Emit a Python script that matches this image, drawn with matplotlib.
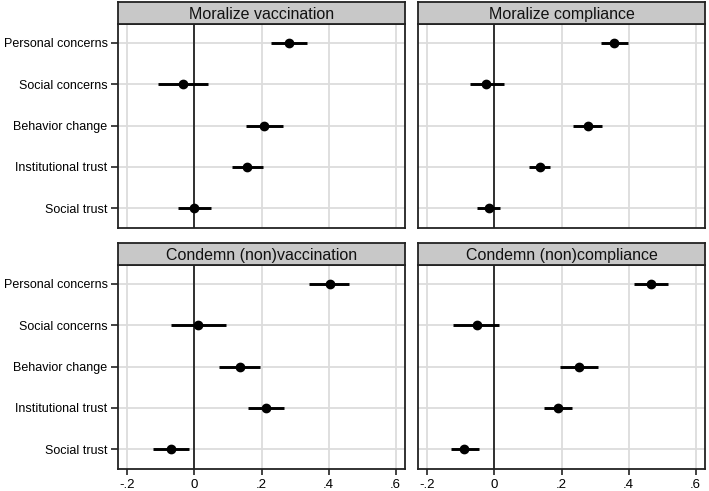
import matplotlib
matplotlib.use('Agg')
import matplotlib.pyplot as plt
import numpy as np

plt.rcParams['font.family'] = ['Liberation Sans', 'DejaVu Sans']

## categories and panels
categories = ['Personal concerns', 'Social concerns', 'Behavior change',
              'Institutional trust', 'Social trust']
panel_titles = ['Moralize vaccination', 'Moralize compliance',
                'Condemn (non)vaccination', 'Condemn (non)compliance']

## estimates and confidence intervals, one list per panel
est_mor_vacc = [0.282, -0.035, 0.208, 0.156, 0.000]
lo_mor_vacc = [0.227, -0.108, 0.154, 0.111, -0.048]
hi_mor_vacc = [0.337, 0.041, 0.263, 0.204, 0.048]

est_mor_comp = [0.357, -0.024, 0.278, 0.135, -0.017]
lo_mor_comp = [0.317, -0.074, 0.235, 0.102, -0.051]
hi_mor_comp = [0.397, 0.029, 0.322, 0.167, 0.017]

est_con_vacc = [0.403, 0.012, 0.136, 0.213, -0.070]
lo_con_vacc = [0.342, -0.070, 0.074, 0.160, -0.124]
hi_con_vacc = [0.462, 0.094, 0.197, 0.266, -0.016]

est_con_comp = [0.467, -0.053, 0.252, 0.189, -0.090]
lo_con_comp = [0.417, -0.123, 0.195, 0.147, -0.131]
hi_con_comp = [0.519, 0.015, 0.309, 0.232, -0.047]

x_ticks = [-0.2, 0, 0.2, 0.4, 0.6]
x_ticklabels = ['-.2', '0', '.2', '.4', '.6']

panels = [
    (est_mor_vacc, lo_mor_vacc, hi_mor_vacc),
    (est_mor_comp, lo_mor_comp, hi_mor_comp),
    (est_con_vacc, lo_con_vacc, hi_con_vacc),
    (est_con_comp, lo_con_comp, hi_con_comp),
]

W, H = 709, 491
fig = plt.figure(figsize=(W / 100, H / 100), dpi=100)

## pixel boxes (left, top, right, bottom) of the plot areas
boxes = [(118, 24, 405, 228), (418, 24, 705, 228),
         (118, 265, 405, 469), (418, 265, 705, 469)]
header_h = 22
edge = '#222222'

y_pos = np.arange(1, len(categories) + 1)

for i, (box, title, (est, lo, hi)) in enumerate(zip(boxes, panel_titles, panels)):
    l, t, r, b = box
    ax = fig.add_axes([l / W, 1 - b / H, (r - l) / W, (b - t) / H])
    ax.set_xlim(-0.228, 0.628)
    ax.set_ylim(5.48, 0.54)

    for xt in x_ticks:
        ax.axvline(xt, color='#dcdcdc', lw=1.3, zorder=0)
    for yp in y_pos:
        ax.axhline(yp, color='#dcdcdc', lw=1.3, zorder=0)
    ax.axvline(0, color='#222222', lw=1.3, zorder=1)

    est = np.array(est)
    ax.hlines(y_pos, lo, hi, color='black', lw=2.1, zorder=2)
    ax.plot(est, y_pos, 'o', color='black', ms=6, zorder=3)

    for s in ax.spines.values():
        s.set_color(edge)
        s.set_linewidth(1.3)

    ax.set_xticks(x_ticks)
    ax.set_yticks(y_pos)
    if i % 2 == 0:
        ax.set_yticklabels(categories, fontsize=9)
        ax.tick_params(axis='y', length=5, width=1.2, color=edge, pad=2.5)
    else:
        ax.set_yticklabels([])
        ax.tick_params(axis='y', length=0)
    if i >= 2:
        ax.set_xticklabels(x_ticklabels, fontsize=9.5)
        ax.tick_params(axis='x', length=4, width=1.2, color=edge, pad=3)
    else:
        ax.set_xticklabels([])
        ax.tick_params(axis='x', length=0)

    ## gray strip header
    hax = fig.add_axes([l / W, 1 - t / H, (r - l) / W, header_h / H])
    hax.set_facecolor('#c8c8c8')
    hax.set_xticks([])
    hax.set_yticks([])
    for s in hax.spines.values():
        s.set_color(edge)
        s.set_linewidth(1.3)
    hax.text(0.5, 0.45, title, ha='center', va='center', fontsize=11.5,
             transform=hax.transAxes, color='#111111')

plt.savefig('out.png', dpi=100)
